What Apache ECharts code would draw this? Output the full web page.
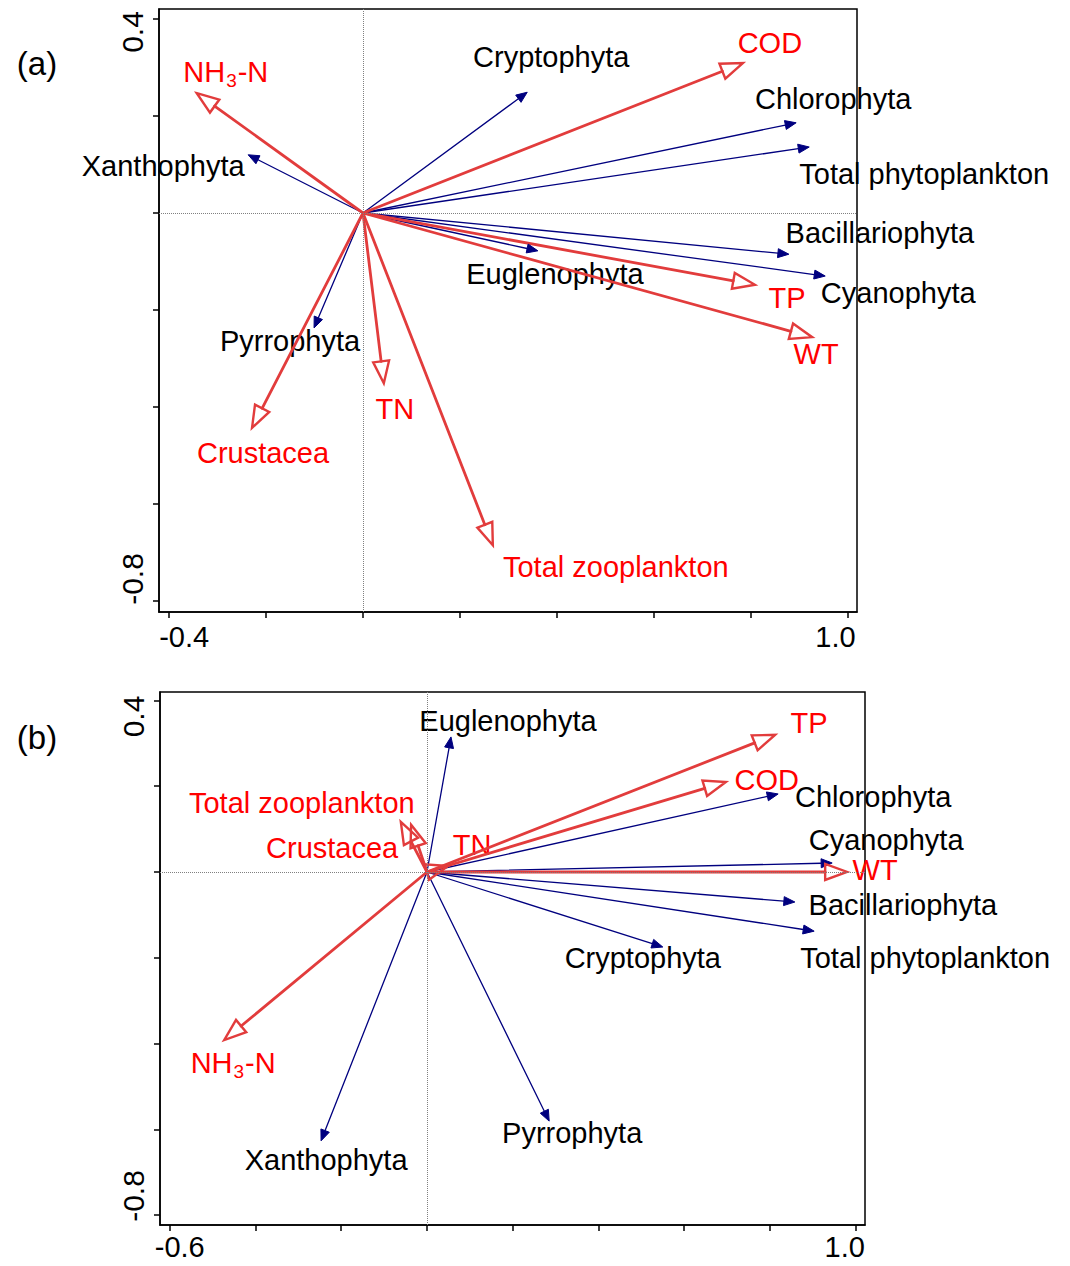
<!DOCTYPE html>
<html><head><meta charset="utf-8">
<script src="https://cdn.jsdelivr.net/npm/echarts@6/dist/echarts.min.js"></script>
<style>html,body{margin:0;padding:0;background:#fff}#c{width:1070px;height:1266px}</style>
</head><body><div id="c"></div>
<script>
// ---------- DATA ----------
// Panel (a)
const phytoNamesA = ['Cryptophyta','Chlorophyta','Total phytoplankton','Xanthophyta','Bacillariophyta','Cyanophyta','Euglenophyta','Pyrrophyta'];
const phytoAx1A = [0.339, 0.894, 0.921, -0.237, 0.879, 0.954, 0.361, -0.101];
const phytoAx2A = [0.249, 0.186, 0.136, 0.120, -0.085, -0.130, -0.078, -0.237];
const envNamesA = ['COD','NH3-N','TP','WT','TN','Crustacea','Total zooplankton'];
const envAx1A = [0.784, -0.343, 0.809, 0.927, 0.043, -0.229, 0.268];
const envAx2A = [0.309, 0.247, -0.148, -0.256, -0.351, -0.443, -0.685];
// Panel (b)
const phytoNamesB = ['Euglenophyta','Chlorophyta','Cyanophyta','Bacillariophyta','Total phytoplankton','Cryptophyta','Pyrrophyta','Xanthophyta'];
const phytoAx1B = [0.056, 0.819, 0.945, 0.858, 0.903, 0.550, 0.285, -0.247];
const phytoAx2B = [0.315, 0.182, 0.021, -0.070, -0.138, -0.175, -0.581, -0.627];
const envNamesB = ['TP','COD','WT','TN','Crustacea','Total zooplankton','NH3-N'];
const envAx1B = [0.812, 0.697, 0.980, 0.049, -0.037, -0.061, -0.473];
const envAx2B = [0.320, 0.210, 0.000, 0.014, 0.110, 0.117, -0.392];
// Ticks and tick labels
const xTicksA = [-0.4, -0.2, 0, 0.2, 0.4, 0.6, 0.8, 1.0];
const xTicksB = [-0.6, -0.4, -0.2, 0, 0.2, 0.4, 0.6, 0.8, 1.0];
const yTicks = [-0.8, -0.6, -0.4, -0.2, 0, 0.2, 0.4];
const xLabelsA = [-0.4, 1.0];
const xLabelsB = [-0.6, 1.0];
const yLabels = [-0.8, 0.4];

// ---------- LAYOUT / STYLE ----------
const FONT = '"Liberation Sans", Arial, sans-serif';
const LABEL_SIZE = 29;
// label offsets (pixels from arrow tip to text centre)
const labelOffA = {
  'Cryptophyta':[24,-35], 'Chlorophyta':[37,-24], 'Total phytoplankton':[115,27], 'Xanthophyta':[-85,11],
  'Bacillariophyta':[91,-21], 'Cyanophyta':[73,17], 'Euglenophyta':[17,23], 'Pyrrophyta':[-24,13],
  'COD':[27,-20], 'NH3-N':[29,-21], 'TP':[32,13], 'WT':[4,17], 'TN':[11,26], 'Crustacea':[11,25], 'Total zooplankton':[123,22]
};
const labelOffB = {
  'Euglenophyta':[57,-16], 'Chlorophyta':[95,3], 'Cyanophyta':[54,-23], 'Bacillariophyta':[108,3],
  'Total phytoplankton':[111,27], 'Cryptophyta':[-20,11], 'Pyrrophyta':[23,12], 'Xanthophyta':[5,19],
  'TP':[34,-12], 'COD':[41,-2], 'WT':[28,-2], 'TN':[24,-21], 'Crustacea':[-79,23], 'Total zooplankton':[-99,-19], 'NH3-N':[9,23]
};
const phytoStyle = {color:'#00007f', lw:1.3, headLen:11, headHalf:4.5, open:false, textColor:'#000000'};
const envStyle = {color:'#e23c3c', lw:2.8, headLen:22, headHalf:8, open:true, hlw:2.4, textColor:'#ff0000'};

function makeRender(names, offsets, st) {
  return function (params, api) {
    const i = params.dataIndex;
    const name = names[i];
    const p0 = api.coord([0, 0]);
    const p1 = api.coord([api.value(0), api.value(1)]);
    const dx = p1[0] - p0[0], dy = p1[1] - p0[1];
    const len = Math.hypot(dx, dy) || 1;
    const ux = dx / len, uy = dy / len;
    const nx = -uy, ny = ux;
    const bx = p1[0] - ux * st.headLen, by = p1[1] - uy * st.headLen;
    const off = offsets[name] || [0, 0];
    const isNH = name === 'NH3-N';
    const textEl = {
      type: 'text', x: p1[0] + off[0], y: p1[1] + off[1], z2: 1,
      style: {
        text: isNH ? '{n|NH}{s|3}{n|-N}' : name,
        fill: st.textColor, fontSize: LABEL_SIZE, fontFamily: FONT,
        align: 'center', verticalAlign: 'middle',
        rich: {
          n: {fontSize: LABEL_SIZE, fontFamily: FONT, fill: st.textColor, lineHeight: 36, verticalAlign: 'middle'},
          s: {fontSize: 19, fontFamily: FONT, fill: st.textColor, verticalAlign: 'bottom', padding: [0, 1, 0, 1]}
        }
      }
    };
    const line = {type: 'line', z2: 2, shape: {x1: p0[0], y1: p0[1], x2: bx, y2: by},
      style: {stroke: st.color, lineWidth: st.lw, lineCap: 'round'}};
    const head = {type: 'polygon', z2: 3,
      shape: {points: [[p1[0], p1[1]], [bx + nx * st.headHalf, by + ny * st.headHalf], [bx - nx * st.headHalf, by - ny * st.headHalf]]},
      style: st.open ? {fill: 'none', stroke: st.color, lineWidth: st.hlw, lineJoin: 'miter'}
                     : {fill: st.color, stroke: st.color, lineWidth: 1}};
    return {type: 'group', children: [textEl, line, head]};
  };
}

function xAxisCfg(gi, min, max, ticks, labels, padL, padR, margin) {
  return {
    gridIndex: gi, type: 'value', min: min, max: max,
    axisLine: {show: true, onZero: false, lineStyle: {color: '#000', width: 1.5}},
    axisTick: {show: true, customValues: ticks, length: 6, inside: false, lineStyle: {color: '#000', width: 1.5}},
    splitLine: {show: false},
    axisLabel: {
      customValues: labels, margin: margin,
      formatter: v => (v < 0 ? '{l|' : '{r|') + v.toFixed(1) + '}',
      rich: {
        l: {fontSize: 29, lineHeight: 28, fontFamily: FONT, color: '#000', padding: [0, 0, 0, padL]},
        r: {fontSize: 29, lineHeight: 28, fontFamily: FONT, color: '#000', padding: [0, padR, 0, 0]}
      }
    }
  };
}
function yAxisCfg(gi, min, max, padL, padR) {
  return {
    gridIndex: gi, type: 'value', min: min, max: max,
    axisLine: {show: true, onZero: false, lineStyle: {color: '#000', width: 1.5}},
    axisTick: {show: true, customValues: yTicks, length: 6, inside: false, lineStyle: {color: '#000', width: 1.5}},
    splitLine: {show: false},
    axisLabel: {
      customValues: yLabels, margin: 12, rotate: 90,
      formatter: v => (v < 0 ? '{l|' : '{r|') + v.toFixed(1) + '}',
      rich: {
        l: {fontSize: 30, fontFamily: FONT, color: '#000', padding: [0, 0, 0, padL]},
        r: {fontSize: 30, fontFamily: FONT, color: '#000', padding: [0, padR, 0, 0]}
      }
    }
  };
}
function zeroLines(gi) {
  return {
    type: 'scatter', xAxisIndex: gi, yAxisIndex: gi, data: [[0, 0]], symbolSize: 0, silent: true, z: 1,
    markLine: {silent: true, symbol: 'none', animation: false, label: {show: false},
      lineStyle: {type: 'dotted', color: '#808080', width: 1},
      data: [{xAxis: 0}, {yAxis: 0}]}
  };
}
function arrows(gi, names, ax1, ax2, offsets, st) {
  return {
    type: 'custom', xAxisIndex: gi, yAxisIndex: gi, clip: false, silent: true, z: 3,
    data: names.map((n, i) => [ax1[i], ax2[i]]),
    encode: {x: 0, y: 1},
    renderItem: makeRender(names, offsets, st)
  };
}

const chart = echarts.init(document.getElementById('c'), null, {renderer: 'svg'});
chart.setOption({
  animation: false,
  backgroundColor: '#fff',
  grid: [
    {left: 159, top: 9, width: 698, height: 603, show: true, borderColor: '#000', borderWidth: 1.5, outerBoundsMode: 'none', containLabel: false},
    {left: 160, top: 692, width: 705, height: 533, show: true, borderColor: '#000', borderWidth: 1.5, outerBoundsMode: 'none', containLabel: false}
  ],
  xAxis: [
    xAxisCfg(0, -0.421, 1.0196, xTicksA, xLabelsA, 30, 24, 11),
    xAxisCfg(1, -0.6227, 1.0216, xTicksB, xLabelsB, 20, 22, 8)
  ],
  yAxis: [
    yAxisCfg(0, -0.8227, 0.4206, 44, 26),
    yAxisCfg(1, -0.8233, 0.4198, 38, 32)
  ],
  graphic: [
    {type: 'text', x: 37, y: 63, style: {text: '(a)', fontSize: 33, fontFamily: FONT, fill: '#000', align: 'center', verticalAlign: 'middle'}},
    {type: 'text', x: 37, y: 737, style: {text: '(b)', fontSize: 33, fontFamily: FONT, fill: '#000', align: 'center', verticalAlign: 'middle'}}
  ],
  series: [
    zeroLines(0),
    arrows(0, phytoNamesA, phytoAx1A, phytoAx2A, labelOffA, phytoStyle),
    arrows(0, envNamesA, envAx1A, envAx2A, labelOffA, envStyle),
    zeroLines(1),
    arrows(1, phytoNamesB, phytoAx1B, phytoAx2B, labelOffB, phytoStyle),
    arrows(1, envNamesB, envAx1B, envAx2B, labelOffB, envStyle)
  ]
});
</script></body></html>
